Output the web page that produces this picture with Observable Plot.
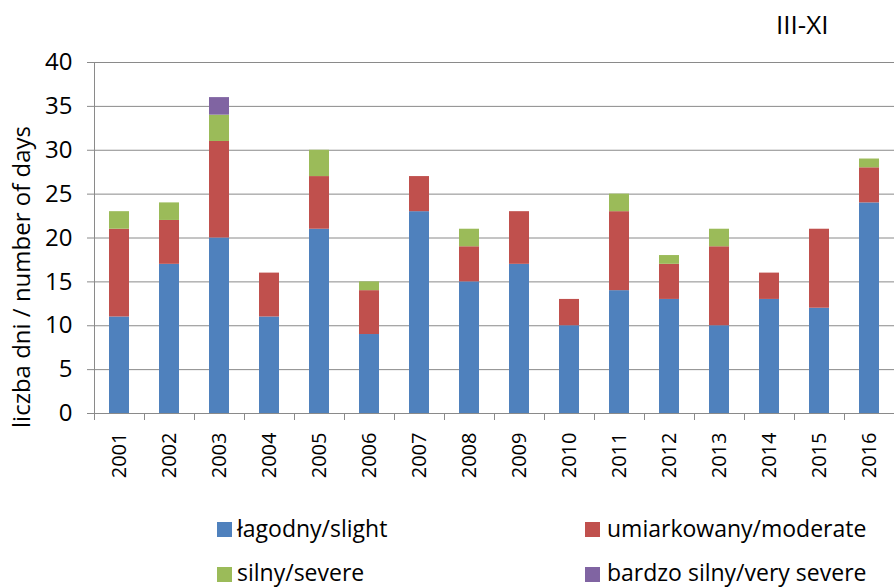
<!DOCTYPE html>
<html>
<head>
<meta charset="utf-8">
<script src="https://cdn.jsdelivr.net/npm/d3@7"></script>
<script src="https://cdn.jsdelivr.net/npm/@observablehq/plot@0.6"></script>
<style>
  html, body { margin: 0; padding: 0; background: #fff; }
  #wrap { position: relative; width: 894px; height: 587px; overflow: hidden; font-family: "Open Sans", sans-serif; color: #000; }
  #title { position: absolute; left: 776px; top: 11px; font-size: 26px; line-height: 26px; white-space: nowrap; }
  #chart { position: absolute; left: 0; top: 40px; }
  .item { position: absolute; font-size: 23px; line-height: 23px; white-space: nowrap; }
  .sw { position: absolute; width: 15px; height: 15px; }
</style>
</head>
<body>
<div id="wrap">
  <div id="title"></div>
  <div id="chart"></div>
  <div id="legend"></div>
</div>
<script>
const years = ["2001","2002","2003","2004","2005","2006","2007","2008","2009","2010","2011","2012","2013","2014","2015","2016"];
const categories = ["łagodny/slight", "umiarkowany/moderate", "silny/severe", "bardzo silny/very severe"];
const colors = ["#4F81BD", "#C0504D", "#9BBB59", "#8064A2"];
const slight     = [11, 17, 20, 11, 21, 9, 23, 15, 17, 10, 14, 13, 10, 13, 12, 24];
const moderate   = [10, 5, 11, 5, 6, 5, 4, 4, 6, 3, 9, 4, 9, 3, 9, 4];
const severe     = [2, 2, 3, 0, 3, 1, 0, 2, 0, 0, 2, 1, 2, 0, 0, 1];
const verySevere = [0, 0, 2, 0, 0, 0, 0, 0, 0, 0, 0, 0, 0, 0, 0, 0];
const yTicks = [0, 5, 10, 15, 20, 25, 30, 35, 40];
const titleText = "III-XI";
const yLabel = "liczba dni / number of days";

const series = [slight, moderate, severe, verySevere];
const data = [];
years.forEach((yr, i) => {
  series.forEach((s, k) => {
    if (s[i] > 0) data.push({year: yr, category: categories[k], value: s[i]});
  });
});

const grid = "#8a8a8a";

const chart = Plot.plot({
  width: 894,
  height: 460,
  marginTop: 22,
  marginBottom: 87,
  marginLeft: 93,
  marginRight: 0,
  style: {fontFamily: "Open Sans, sans-serif", color: "#000", background: "#fff"},
  x: {domain: years, paddingInner: 0.6, paddingOuter: 0.3},
  y: {domain: [0, 40], ticks: yTicks},
  color: {domain: categories, range: colors},
  marks: [
    Plot.gridY(yTicks, {stroke: grid, strokeOpacity: 1, strokeWidth: 1}),
    Plot.barY(data, {x: "year", y: "value", fill: "category", order: categories}),
    Plot.ruleY([0], {stroke: grid, strokeWidth: 1}),
    Plot.ruleX([years[0]], {dx: -25, y1: 0, y2: 40, stroke: grid}),
    Plot.axisY(yTicks, {tickSize: 6, tickPadding: 15, fontSize: 24, stroke: grid, label: null}),
    Plot.axisX({tickSize: 7, dx: -25, tickFormat: () => "", stroke: grid, label: null}),
    Plot.axisX({tickSize: 0, tickPadding: 19, tickRotate: -90, fontSize: 20, label: null}),
    Plot.text([yLabel], {frameAnchor: "left", textAnchor: "middle", rotate: -90, dx: -71, dy: 39, fontSize: 24, fill: "#000"})
  ]
});
document.getElementById("chart").appendChild(chart);
document.getElementById("title").textContent = titleText;

const legend = document.getElementById("legend");
const pos = [
  {sx: 217, tx: 237, sy: 522, ty: 517},
  {sx: 585, tx: 607, sy: 522, ty: 517},
  {sx: 217, tx: 237, sy: 567, ty: 561},
  {sx: 585, tx: 607, sy: 567, ty: 561}
];
categories.forEach((c, k) => {
  const sw = document.createElement("div");
  sw.className = "sw";
  sw.style.left = pos[k].sx + "px";
  sw.style.top = pos[k].sy + "px";
  sw.style.background = colors[k];
  legend.appendChild(sw);
  const t = document.createElement("div");
  t.className = "item";
  t.style.left = pos[k].tx + "px";
  t.style.top = pos[k].ty + "px";
  t.textContent = c;
  legend.appendChild(t);
});
</script>
</body>
</html>
